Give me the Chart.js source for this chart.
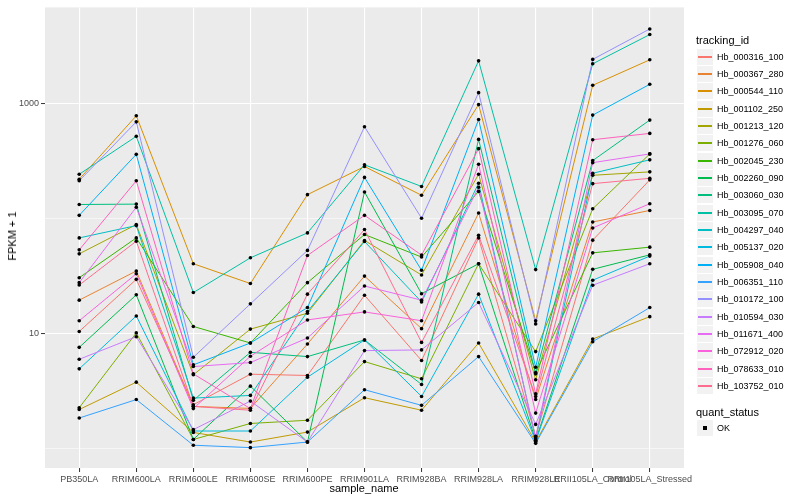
<!DOCTYPE html>
<html>
<head>
<meta charset="utf-8">
<script src="https://cdn.jsdelivr.net/npm/chart.js@4.4.1/dist/chart.umd.min.js"></script>
<style>
  body { margin: 0; background: #fff; font-family: "Liberation Sans", Arial, sans-serif; }
  #wrap { position: relative; width: 800px; height: 500px; overflow: hidden; }
  #chart { position: absolute; left: 0; top: 0; }
  .txt { position: absolute; white-space: nowrap; color: #000; }
  #ytitle { font-size: 11px; left: 12px; top: 236px; transform: translate(-50%, -50%) rotate(-90deg); }
  #xtitle { font-size: 11px; left: 364px; top: 488px; transform: translate(-50%, -50%); }
  .ltitle { font-size: 11px; left: 696px; transform: translateY(-50%); }
  .key { position: absolute; left: 697px; width: 16px; height: 16px; background: #F2F2F2; }
  .key i { position: absolute; left: 1px; width: 14px; top: 7px; height: 2px; }
  .key b { position: absolute; left: 6px; top: 6px; width: 4px; height: 4px; background: #000; }
  .ltext { font-size: 9px; left: 717px; transform: translateY(-50%); }
</style>
</head>
<body>
<div id="wrap">
  <canvas id="chart" width="800" height="500"></canvas>
  <div id="ytitle" class="txt">FPKM + 1</div>
  <div id="xtitle" class="txt">sample_name</div>
  <div id="legend"></div>
</div>
<script>
// samples on the x axis
const sampleNames = ['PB350LA', 'RRIM600LA', 'RRIM600LE', 'RRIM600SE', 'RRIM600PE', 'RRIM901LA',
  'RRIM928BA', 'RRIM928LA', 'RRIM928LE', 'RRII105LA_Control', 'RRII105LA_Stressed'];

// FPKM + 1 per gene, one value per sample
const hb_000316_100 = [10.4, 29.6, 2.39, 4.41, 4.30, 21.5, 5.80, 68.0, 1.27, 65.0, 218];
const hb_000367_280 = [19.5, 35.0, 2.31, 2.22, 8.09, 31.6, 11.0, 112, 2.65, 93.6, 118];
const hb_000544_110 = [221, 789, 40.5, 27.2, 162, 285, 160, 988, 12.9, 1456, 2427];
const hb_001102_250 = [2.17, 3.76, 1.37, 1.13, 1.38, 2.75, 2.14, 8.25, 1.13, 8.94, 14.0];
const hb_001213_120 = [49.4, 88.9, 4.36, 10.9, 15.0, 64.6, 32.3, 244, 3.94, 239, 256];
const hb_001276_060 = [2.25, 10.1, 1.19, 1.64, 1.75, 5.68, 4.02, 40.5, 6.94, 122, 367];
const hb_002045_230 = [30.6, 68.0, 11.5, 8.25, 27.7, 72.8, 46.3, 173, 4.56, 50.4, 56.5];
const hb_002260_090 = [7.56, 21.7, 1.19, 3.47, 1.13, 171, 22.2, 40.5, 1.17, 36.2, 48.4];
const hb_003060_030 = [133, 134, 2.61, 6.84, 6.28, 8.77, 3.59, 491, 4.44, 321, 724];
const hb_003095_070 = [244, 522, 22.7, 45.6, 75.2, 295, 191, 2378, 36.0, 2240, 4030];
const hb_004297_040 = [68.0, 87.1, 2.73, 2.88, 15.5, 63.3, 18.8, 204, 1.20, 249, 326];
const hb_005137_020 = [4.91, 14.2, 1.41, 1.41, 4.15, 8.77, 2.82, 22.0, 1.15, 29.1, 47.2];
const hb_005908_040 = [107, 364, 5.32, 8.25, 16.8, 229, 35.5, 732, 5.07, 800, 1485];
const hb_006351_110 = [1.83, 2.65, 1.06, 1.01, 1.13, 3.23, 2.36, 6.28, 1.10, 8.47, 16.8];
const hb_010172_100 = [214, 699, 6.19, 18.1, 52.9, 633, 101, 1256, 12.1, 2447, 4508];
const hb_010594_030 = [5.95, 9.36, 1.45, 2.57, 1.13, 7.08, 7.18, 18.6, 1.61, 26.3, 40.5];
const hb_011671_400 = [27.7, 126, 5.14, 5.57, 9.12, 25.9, 19.5, 188, 1.23, 308, 367];
const hb_072912_020 = [12.9, 33.1, 2.21, 6.32, 13.1, 15.4, 12.9, 298, 2.02, 83.0, 135];
const hb_078633_010 = [53.5, 214, 4.44, 2.21, 47.8, 107, 48.2, 408, 2.98, 488, 554];
const hb_103752_010 = [26.4, 63.7, 2.31, 2.14, 22.0, 80.4, 8.35, 71.8, 2.82, 202, 225];

const trackingIds = ['Hb_000316_100', 'Hb_000367_280', 'Hb_000544_110', 'Hb_001102_250', 'Hb_001213_120',
  'Hb_001276_060', 'Hb_002045_230', 'Hb_002260_090', 'Hb_003060_030', 'Hb_003095_070', 'Hb_004297_040',
  'Hb_005137_020', 'Hb_005908_040', 'Hb_006351_110', 'Hb_010172_100', 'Hb_010594_030', 'Hb_011671_400',
  'Hb_072912_020', 'Hb_078633_010', 'Hb_103752_010'];
const seriesValues = [hb_000316_100, hb_000367_280, hb_000544_110, hb_001102_250, hb_001213_120,
  hb_001276_060, hb_002045_230, hb_002260_090, hb_003060_030, hb_003095_070, hb_004297_040,
  hb_005137_020, hb_005908_040, hb_006351_110, hb_010172_100, hb_010594_030, hb_011671_400,
  hb_072912_020, hb_078633_010, hb_103752_010];

const yTicks = [1, 10, 100, 1000];
const yLabelled = [10, 1000];
const quantStatus = ['OK'];

// ggplot hue palette, 20 levels
const palette = ['#F8766D', '#EA8331', '#D89000', '#C09B00', '#A3A500', '#7CAE00', '#39B600', '#00BB4E',
  '#00BF7D', '#00C1A3', '#00BFC4', '#00BAE0', '#00B0F6', '#35A2FF', '#9590FF', '#C77CFF', '#E76BF3',
  '#FA62DB', '#FF62BC', '#FF6C91'];

const n = trackingIds.length;
const datasets = seriesValues.map((vals, i) => ({
  label: trackingIds[i],
  data: vals.map((v, j) => ({ x: j, y: v })),
  borderColor: palette[i],
  borderWidth: 1,
  pointRadius: 0,
  fill: false,
  tension: 0,
  order: n - i + 1
}));
// black points on top of every line
const allPoints = [];
seriesValues.forEach(vals => vals.forEach((v, j) => allPoints.push({ x: j, y: v })));
datasets.push({
  label: 'OK',
  data: allPoints,
  showLine: false,
  pointRadius: 1.8,
  pointBackgroundColor: '#000',
  pointBorderWidth: 0,
  order: 0
});

const panelBg = {
  id: 'panelBg',
  beforeDraw(chart) {
    const a = chart.chartArea, c = chart.ctx;
    c.save();
    c.fillStyle = '#EBEBEB';
    c.fillRect(a.left, a.top, a.right - a.left, a.bottom - a.top);
    c.restore();
  }
};

const isMajor = v => yLabelled.indexOf(v) >= 0;

new Chart(document.getElementById('chart').getContext('2d'), {
  type: 'line',
  data: { datasets: datasets },
  plugins: [panelBg],
  options: {
    responsive: false,
    animation: false,
    layout: { padding: { top: 5, right: 116, left: 0, bottom: 0 } },
    plugins: { legend: { display: false }, tooltip: { enabled: false } },
    scales: {
      x: {
        type: 'linear',
        min: -0.6,
        max: sampleNames.length - 0.4,
        afterFit: s => { s.height = 32; },
        afterBuildTicks: s => { s.ticks = sampleNames.map((_, i) => ({ value: i })); },
        border: { display: false },
        grid: { color: '#FFFFFF', lineWidth: 1.1, tickColor: '#333333', tickLength: 4, tickWidth: 1 },
        ticks: {
          autoSkip: false, maxRotation: 0, minRotation: 0, padding: 2,
          color: '#4D4D4D', font: { family: 'Liberation Sans, Arial', size: 9 },
          callback: v => sampleNames[v] || ''
        }
      },
      y: {
        type: 'logarithmic',
        min: 0.671,
        max: 6950,
        afterFit: s => { s.width = 45; },
        afterBuildTicks: s => { s.ticks = yTicks.map(v => ({ value: v })); },
        border: { display: false },
        grid: {
          color: '#FFFFFF',
          lineWidth: c => (c.tick && isMajor(c.tick.value) ? 1.1 : 0.55),
          tickColor: c => (c.tick && isMajor(c.tick.value) ? '#333333' : 'rgba(0,0,0,0)'),
          tickLength: 4,
          tickWidth: 1
        },
        ticks: {
          padding: 2, color: '#4D4D4D', font: { family: 'Liberation Sans, Arial', size: 9 },
          callback: v => (isMajor(v) ? String(v) : '')
        }
      }
    }
  }
});

// legend drawn as html
const legend = document.getElementById('legend');
let html = '<div class="txt ltitle" style="top:40px">tracking_id</div>';
trackingIds.forEach((id, i) => {
  const cy = 56.7 + i * 17.33;
  html += '<div class="key" style="top:' + Math.round(cy - 8) + 'px"><i style="background:' + palette[i] + '"></i></div>';
  html += '<div class="txt ltext" style="top:' + cy.toFixed(1) + 'px">' + id + '</div>';
});
html += '<div class="txt ltitle" style="top:411.7px">quant_status</div>';
quantStatus.forEach((s, i) => {
  const cy = 428.3 + i * 17.33;
  html += '<div class="key" style="top:' + Math.round(cy - 8) + 'px"><b></b></div>';
  html += '<div class="txt ltext" style="top:' + cy.toFixed(1) + 'px">' + s + '</div>';
});
legend.innerHTML = html;
</script>
</body>
</html>
